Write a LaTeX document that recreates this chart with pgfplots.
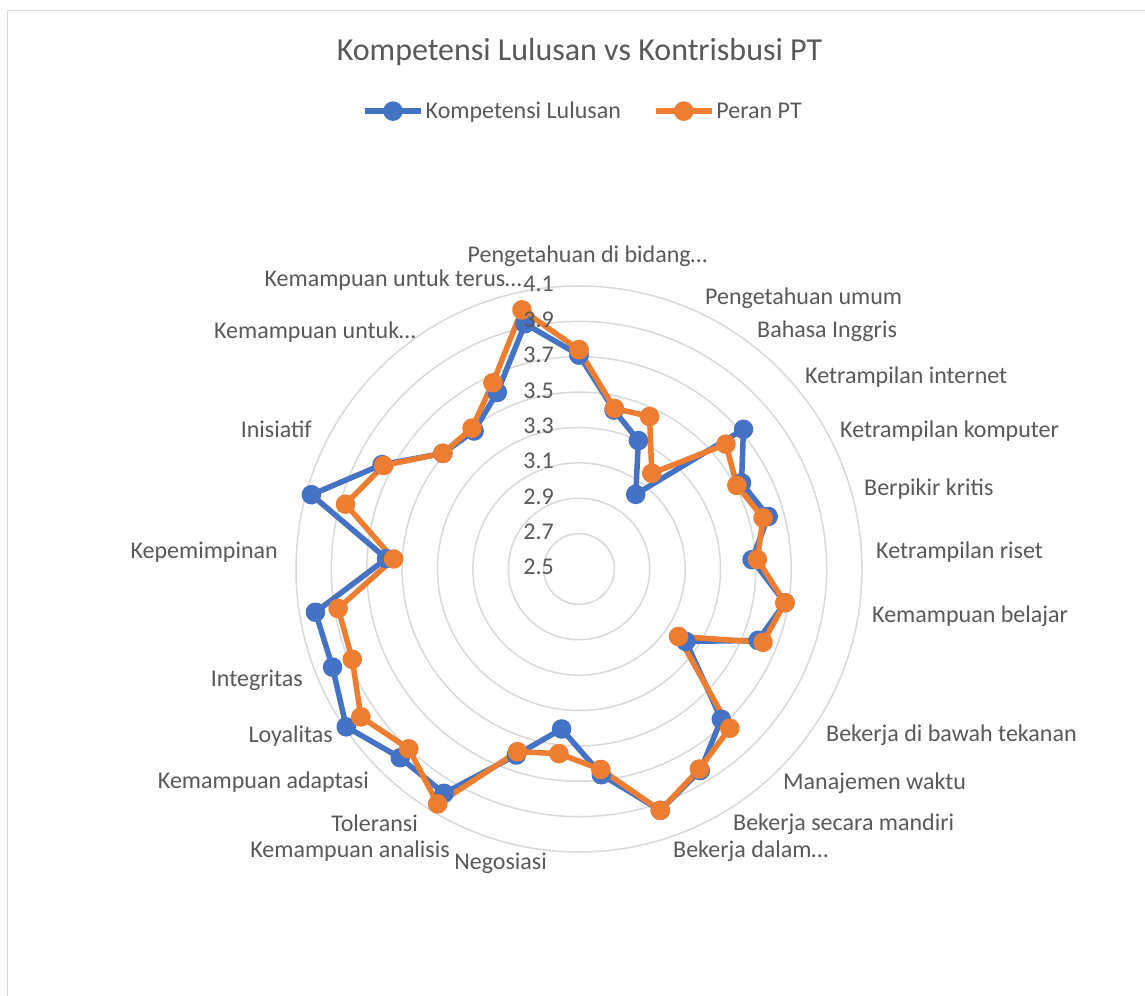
\documentclass[border=0pt]{standalone}
\usepackage{fontspec}
\setmainfont{Carlito}
\usepackage{pgfplots}
\pgfplotsset{compat=1.18}
\usepgfplotslibrary{polar}
\definecolor{serblue}{HTML}{4472C4}
\definecolor{serorange}{HTML}{ED7D31}
\definecolor{gridgray}{HTML}{D9D9D9}
\definecolor{txtgray}{HTML}{595959}
\newcommand\lbl{\fontsize{24bp}{28bp}\selectfont}

\begin{document}
\begin{tikzpicture}
\useasboundingbox (0bp,0bp) rectangle (1145bp,996bp);
\fill[white] (0bp,0bp) rectangle (1145bp,996bp);
\draw[gridgray, line width=1.5bp] (7.5bp,0bp) -- (7.5bp,985.5bp) -- (1145bp,985.5bp);

% title
\node[txtgray, font=\fontsize{32bp}{36bp}\selectfont] at (579.5bp,944bp) {Kompetensi Lulusan vs Kontrisbusi PT};

\begin{polaraxis}[
  at={(579bp,427bp)}, anchor=center,
  width=566bp, height=566bp, scale only axis,
  xmin=0, xmax=360, ymin=0, ymax=1.6,
  xtick=\empty,
  ytick={0.2,0.4,0.6,0.8,1.0,1.2,1.4,1.6},
  yticklabels={},
  major tick length=0pt,
  xmajorgrids=false, ymajorgrids=true,
  y grid style={gridgray, line width=1.5bp},
  axis line style={draw=none},
  y filter/.expression={y-2.5},
  clip=false,
  legend style={at={(axis description cs:0.507,1.309)}, anchor=center,
    draw=none, fill=none, font=\lbl, text=txtgray, legend columns=2,
    /tikz/every even column/.append style={column sep=30bp},
    nodes={inner sep=2bp}},
  legend image code/.code={\draw[#1, mark repeat=2, mark phase=2]
    plot coordinates {(0bp,0bp) (28bp,0bp) (56bp,0bp)};},
  every axis plot/.append style={line width=5.5bp, line join=round,
    mark=*, mark size=7bp},
]
% Kompetensi Lulusan
\addplot[serblue, mark options={fill=serblue, draw=serblue}] coordinates {
  (90,3.71) (77.586,3.42) (65.172,3.30) (52.759,3.03) (40.345,3.72)
  (27.931,3.54) (15.517,3.61) (3.103,3.48) (350.690,3.68) (338.276,3.59)
  (325.862,3.23) (313.448,3.67) (301.034,3.83) (288.621,3.94) (276.207,3.67)
  (263.793,3.41) (251.379,3.61) (238.966,3.98) (226.552,3.97) (214.138,4.09)
  (201.724,4.00) (189.310,4.01) (176.897,3.59) (164.483,4.07) (152.069,3.76)
  (139.655,3.51) (127.241,3.48) (114.828,3.60) (102.414,3.92) (90,3.71)
};
\addlegendentry{Kompetensi Lulusan}
% Peran PT
\addplot[serorange, mark options={fill=serorange, draw=serorange}] coordinates {
  (90,3.74) (77.586,3.43) (65.172,3.45) (52.759,3.18) (40.345,3.59)
  (27.931,3.51) (15.517,3.58) (3.103,3.51) (350.690,3.68) (338.276,3.62)
  (325.862,3.18) (313.448,3.74) (301.034,3.82) (288.621,3.94) (276.207,3.64)
  (263.793,3.55) (251.379,3.59) (238.966,4.05) (226.552,3.90) (214.138,3.99)
  (201.724,3.88) (189.310,3.88) (176.897,3.55) (164.483,3.87) (152.069,3.75)
  (139.655,3.51) (127.241,3.50) (114.828,3.66) (102.414,4.00) (90,3.74)
};
\addlegendentry{Peran PT}
\end{polaraxis}

% radial tick labels
\begin{scope}[every node/.style={txtgray, font=\lbl, anchor=east, text height=17bp, text depth=5bp, inner sep=0pt}]
\node at (554bp,427bp) {2.5};
\node at (554bp,462.4bp) {2.7};
\node at (554bp,497.8bp) {2.9};
\node at (554bp,533.1bp) {3.1};
\node at (554bp,568.5bp) {3.3};
\node at (554bp,603.9bp) {3.5};
\node at (554bp,639.3bp) {3.7};
\node at (554bp,674.6bp) {3.9};
\node at (554bp,710bp) {4.1};
\end{scope}

% category labels
\begin{scope}[every node/.style={txtgray, font=\lbl, text height=17bp, text depth=5bp, inner sep=0pt}]
\node[anchor=center] at (587.5bp,739bp) {Pengetahuan di bidang…};
\node[anchor=west] at (705bp,697bp) {Pengetahuan umum};
\node[anchor=west] at (757bp,664bp) {Bahasa Inggris};
\node[anchor=west] at (805bp,618bp) {Ketrampilan internet};
\node[anchor=west] at (840bp,564bp) {Ketrampilan komputer};
\node[anchor=west] at (864bp,506bp) {Berpikir kritis};
\node[anchor=west] at (876bp,443bp) {Ketrampilan riset};
\node[anchor=west] at (872bp,379bp) {Kemampuan belajar};
\node[anchor=west] at (826bp,260bp) {Bekerja di bawah tekanan};
\node[anchor=west] at (783bp,212bp) {Manajemen waktu};
\node[anchor=west] at (733bp,171bp) {Bekerja secara mandiri};
\node[anchor=west] at (673bp,144bp) {Bekerja dalam…};
\node[anchor=east] at (547bp,132bp) {Negosiasi};
\node[anchor=east] at (450bp,144bp) {Kemampuan analisis};
\node[anchor=east] at (418bp,170bp) {Toleransi};
\node[anchor=east] at (369bp,213bp) {Kemampuan adaptasi};
\node[anchor=east] at (333bp,259bp) {Loyalitas};
\node[anchor=east] at (303bp,315bp) {Integritas};
\node[anchor=east] at (278bp,443bp) {Kepemimpinan};
\node[anchor=east] at (312bp,564bp) {Inisiatif};
\node[anchor=east] at (416bp,663bp) {Kemampuan untuk…};
\node[anchor=east] at (522bp,715bp) {Kemampuan untuk terus…};
\end{scope}
\end{tikzpicture}
\end{document}
